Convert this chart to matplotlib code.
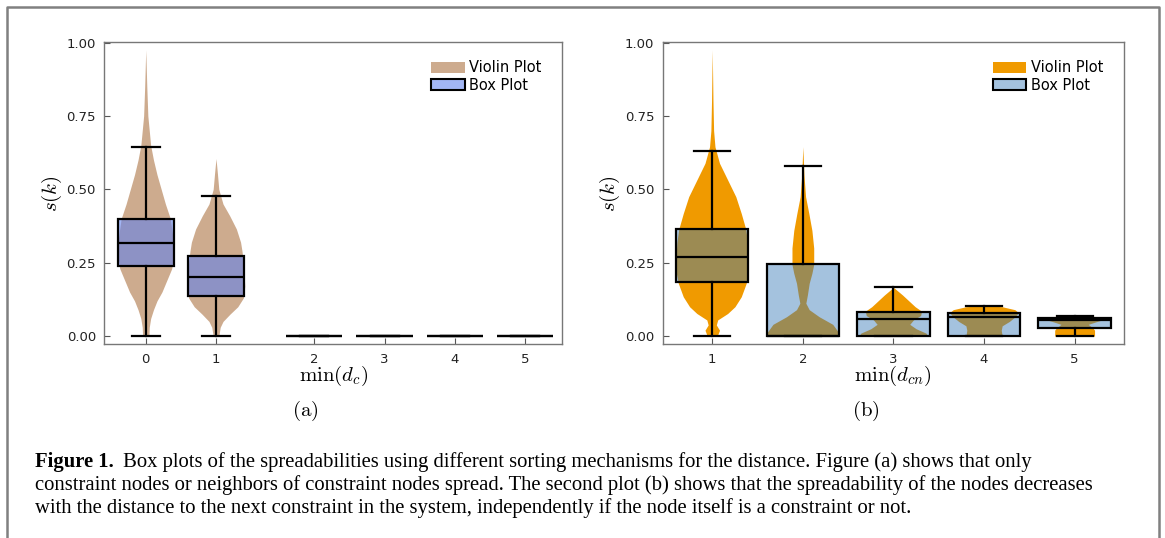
import matplotlib
matplotlib.use('Agg')
import matplotlib.pyplot as plt
from matplotlib.patches import Patch
from matplotlib.lines import Line2D

plt.rcParams['mathtext.fontset'] = 'cm'
plt.rcParams['font.family'] = 'DejaVu Sans'

W, H = 1165, 538

# ---- panel (a): grouped by min(d_c) ----
a_labels = ['0', '1', '2', '3', '4', '5']
a_pos = [0, 1, 2.4, 3.4, 4.4, 5.4]
a_med = [0.318, 0.200, 0.0, 0.0, 0.0, 0.0]
a_q1 = [0.238, 0.135, 0.0, 0.0, 0.0, 0.0]
a_q3 = [0.400, 0.272, 0.0, 0.0, 0.0, 0.0]
a_lo = [0.0, 0.0, 0.0, 0.0, 0.0, 0.0]
a_hi = [0.644, 0.478, 0.0, 0.0, 0.0, 0.0]

# violin outlines: levels and half widths
a0_y = [0.0, 0.03, 0.06, 0.09, 0.12, 0.15, 0.19, 0.23, 0.27, 0.31, 0.35, 0.40,
        0.45, 0.50, 0.55, 0.60, 0.65, 0.70, 0.75, 0.85, 0.975]
a0_w = [0.045, 0.05, 0.07, 0.11, 0.16, 0.23, 0.30, 0.37, 0.395, 0.40, 0.38, 0.35,
        0.28, 0.22, 0.16, 0.11, 0.07, 0.05, 0.03, 0.015, 0.0]
a1_y = [0.0, 0.03, 0.05, 0.075, 0.10, 0.13, 0.17, 0.21, 0.25, 0.29, 0.32, 0.365,
        0.41, 0.45, 0.50, 0.555, 0.605]
a1_w = [0.04, 0.06, 0.10, 0.20, 0.31, 0.39, 0.41, 0.40, 0.39, 0.37, 0.35, 0.29,
        0.195, 0.10, 0.04, 0.02, 0.0]

# ---- panel (b): grouped by min(d_cn) ----
b_labels = ['1', '2', '3', '4', '5']
b_pos = [1, 2, 3, 4, 5]
b_med = [0.270, 0.0, 0.059, 0.066, 0.0545]
b_q1 = [0.183, 0.0, 0.0, 0.0, 0.026]
b_q3 = [0.364, 0.244, 0.082, 0.077, 0.060]
b_lo = [0.0, 0.0, 0.0, 0.0, 0.0]
b_hi = [0.630, 0.578, 0.166, 0.103, 0.068]

b1_y = [0.0, 0.02, 0.038, 0.055, 0.077, 0.10, 0.134, 0.18, 0.22, 0.27, 0.32, 0.364,
        0.418, 0.475, 0.532, 0.589, 0.645, 0.70, 0.80, 0.975]
b1_w = [0.055, 0.08, 0.045, 0.06, 0.17, 0.25, 0.32, 0.375, 0.40, 0.40, 0.39, 0.37,
        0.32, 0.26, 0.17, 0.08, 0.03, 0.015, 0.008, 0.0]
b2_y = [0.0, 0.01, 0.04, 0.066, 0.09, 0.112, 0.14, 0.18, 0.214, 0.244, 0.30, 0.36,
        0.418, 0.475, 0.55, 0.645]
b2_w = [0.40, 0.40, 0.33, 0.18, 0.07, 0.033, 0.05, 0.07, 0.10, 0.12, 0.12, 0.10,
        0.066, 0.03, 0.012, 0.0]
b3_y = [0.0, 0.01, 0.025, 0.04, 0.055, 0.07, 0.085, 0.10, 0.12, 0.14, 0.166]
b3_w = [0.38, 0.36, 0.25, 0.18, 0.22, 0.30, 0.31, 0.24, 0.17, 0.10, 0.0]
b4_y = [0.0, 0.02, 0.035, 0.05, 0.065, 0.08, 0.09, 0.10, 0.104]
b4_w = [0.20, 0.19, 0.20, 0.28, 0.34, 0.38, 0.34, 0.20, 0.0]
b5_y = [0.0, 0.02, 0.028, 0.04, 0.05, 0.06, 0.066, 0.068]
b5_w = [0.22, 0.22, 0.20, 0.15, 0.25, 0.36, 0.38, 0.0]

caption_head = 'Figure 1.'
caption = [
    'Box plots of the spreadabilities using different sorting mechanisms for the distance. Figure (a) shows that only',
    'constraint nodes or neighbors of constraint nodes spread. The second plot (b) shows that the spreadability of the nodes decreases',
    'with the distance to the next constraint in the system, independently if the node itself is a constraint or not.',
]


def draw_panel(ax, pos, labels, med, q1, q3, lo, hi, violins, vcol, bcol, xlab):
    for p, (vy, vw) in zip(pos, violins):
        ax.fill_betweenx(vy, [p - w for w in vw], [p + w for w in vw],
                         color=vcol, lw=0, zorder=1)
    stats = [dict(med=m, q1=a, q3=b, whislo=l, whishi=h)
             for m, a, b, l, h in zip(med, q1, q3, lo, hi)]
    ax.bxp(stats, positions=pos, widths=0.8, capwidths=0.4, patch_artist=True,
           showfliers=False, manage_ticks=False,
           boxprops=dict(facecolor=bcol, edgecolor='black', lw=1.6),
           medianprops=dict(color='black', lw=1.6),
           whiskerprops=dict(color='black', lw=1.6),
           capprops=dict(color='black', lw=1.6), zorder=2)
    ax.set_xticks(pos)
    ax.set_xticklabels(labels)
    ax.set_yticks([0, 0.25, 0.5, 0.75, 1.0])
    ax.set_yticklabels(['0.00', '0.25', '0.50', '0.75', '1.00'])
    ax.set_ylim(-0.028, 1.001)
    ax.tick_params(direction='in', length=4, width=0.8, color='#555555',
                   labelsize=9.5, labelcolor='#222222', pad=6,
                   top=False, right=False)
    for s in ax.spines.values():
        s.set_color('#777777')
        s.set_linewidth(1.0)
    ax.set_xlabel(xlab, fontsize=15, labelpad=-1)
    ax.set_ylabel(r'$s(k)$', fontsize=15, labelpad=2)
    handles = [Patch(facecolor=vcol, edgecolor='none', label='Violin Plot'),
               Patch(facecolor=bcol, edgecolor='black', lw=1.5, label='Box Plot')]
    ax.legend(handles=handles, loc='upper right', bbox_to_anchor=(0.955, 0.94),
              frameon=False, fontsize=10.5, handlelength=2.3, handleheight=0.85,
              handletextpad=0.3, labelspacing=0.15, borderpad=0, borderaxespad=0)


fig = plt.figure(figsize=(W / 100, H / 100), dpi=100)

ax1 = fig.add_axes([104.3 / W, 1 - 344.3 / H, 458 / W, 302 / H])
draw_panel(ax1, a_pos, a_labels, a_med, a_q1, a_q3, a_lo, a_hi,
           [(a0_y, a0_w), (a1_y, a1_w)], '#cdab8e', (0.376, 0.506, 0.933, 0.58),
           r'$\min(d_c)$')
ax1.set_xlim(-0.59, 5.93)

ax2 = fig.add_axes([662.7 / W, 1 - 344.3 / H, 461.3 / W, 302 / H])
draw_panel(ax2, b_pos, b_labels, b_med, b_q1, b_q3, b_lo, b_hi,
           [(b1_y, b1_w), (b2_y, b2_w), (b3_y, b3_w), (b4_y, b4_w), (b5_y, b5_w)],
           '#f09a00', (0.224, 0.478, 0.718, 0.46), r'$\min(d_{cn})$')
ax2.set_xlim(0.453, 5.545)

fig.text(305 / W, 1 - 411 / H, r'$\mathrm{(a)}$', ha='center', va='center', fontsize=15)
fig.text(866 / W, 1 - 411 / H, r'$\mathrm{(b)}$', ha='center', va='center', fontsize=15)

# caption
cap_font = 'Liberation Serif'
cap_size = 14.9
head = fig.text(35 / W, 1 - 467 / H, caption_head, fontsize=cap_size, family=cap_font,
                weight='bold', va='baseline')
fig.canvas.draw()
head_end = head.get_window_extent().x1
fig.text((head_end + 9) / W, 1 - 467 / H, caption[0], fontsize=cap_size,
         family=cap_font, va='baseline')
fig.text(35 / W, 1 - 490 / H, caption[1], fontsize=cap_size, family=cap_font, va='baseline')
fig.text(35 / W, 1 - 513 / H, caption[2], fontsize=cap_size, family=cap_font, va='baseline')

# outer frame (left, top, right)
frame = Line2D([7 / W, 7 / W, 1159 / W, 1159 / W], [0, 1 - 7 / H, 1 - 7 / H, 0],
               transform=fig.transFigure, color='#808080', lw=1.8)
fig.add_artist(frame)

fig.savefig('out.png', dpi=100)
